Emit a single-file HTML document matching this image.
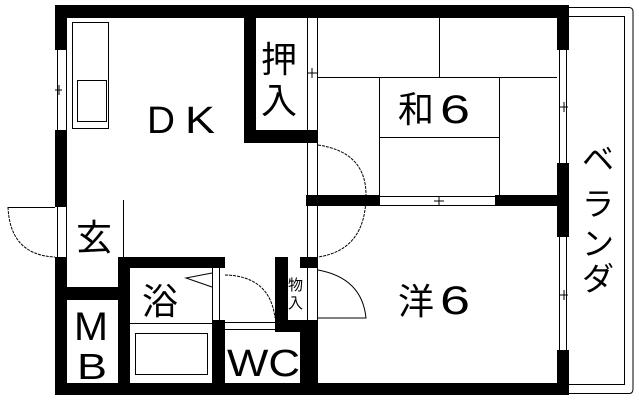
<!DOCTYPE html>
<html><head><meta charset="utf-8"><style>
html,body{margin:0;padding:0;background:#fff;width:639px;height:401px;overflow:hidden}
text{font-family:"Liberation Sans","Noto Sans CJK JP",sans-serif;fill:#000}
</style></head><body>
<svg width="639" height="401" viewBox="0 0 639 401" xmlns="http://www.w3.org/2000/svg">
<g fill="#000">
<rect x="55" y="5" width="514" height="13"/>
<rect x="55" y="383" width="514" height="12"/>
<rect x="55" y="5" width="12" height="45"/>
<rect x="55" y="130" width="12" height="77"/>
<rect x="55" y="257" width="12" height="138"/>
<rect x="557" y="5" width="12" height="45"/>
<rect x="557" y="163" width="12" height="74"/>
<rect x="557" y="350" width="12" height="45"/>
<rect x="244" y="5" width="12" height="138"/>
<rect x="244" y="130" width="74" height="13"/>
<rect x="306" y="195" width="74" height="11"/>
<rect x="495" y="195" width="63" height="11"/>
<rect x="300" y="257" width="18" height="11"/>
<rect x="300" y="320" width="18" height="75"/>
<rect x="275" y="257" width="13" height="75"/>
<rect x="275" y="320" width="43" height="12"/>
<rect x="118" y="257" width="107" height="11"/>
<rect x="118" y="257" width="12" height="138"/>
<rect x="67" y="287" width="51" height="13"/>
<rect x="212" y="320" width="13" height="75"/>
</g>
<g fill="none" stroke="#000" stroke-width="1">
<line x1="57.5" y1="50" x2="57.5" y2="130"/><line x1="66.5" y1="50" x2="66.5" y2="130"/>
<line x1="55" y1="90" x2="62" y2="90"/><line x1="59" y1="85" x2="59" y2="95"/>
<line x1="57.5" y1="207" x2="57.5" y2="257"/><line x1="66.5" y1="207" x2="66.5" y2="257"/>
<line x1="8" y1="207.5" x2="55" y2="207.5"/>
<path d="M8 207 Q10 255 55 257" stroke-dasharray="3,1"/>
<line x1="123.5" y1="200" x2="123.5" y2="257"/>
<rect x="72.5" y="22.5" width="36" height="106"/>
<rect x="77.5" y="80.5" width="29" height="41"/>
<line x1="307.5" y1="18" x2="307.5" y2="195"/><line x1="317.5" y1="18" x2="317.5" y2="195"/>
<line x1="307.5" y1="206" x2="307.5" y2="257"/><line x1="317.5" y1="206" x2="317.5" y2="257"/>
<line x1="307.5" y1="268" x2="307.5" y2="320"/><line x1="317.5" y1="268" x2="317.5" y2="320"/>
<line x1="308" y1="73" x2="318" y2="73"/><line x1="312" y1="68" x2="312" y2="78"/>
<path d="M318 145 Q366 152 366 195 Q366 250 318 257" stroke-dasharray="3,1"/>
<path d="M318 270 Q362 278 366 318 L318 318"/>
<line x1="318" y1="77.5" x2="557" y2="77.5"/>
<line x1="439.5" y1="18" x2="439.5" y2="77"/>
<line x1="379.5" y1="77" x2="379.5" y2="195"/>
<line x1="499.5" y1="77" x2="499.5" y2="195"/>
<line x1="379" y1="137.5" x2="499" y2="137.5"/>
<line x1="380" y1="196.5" x2="495" y2="196.5"/><line x1="380" y1="205.5" x2="495" y2="205.5"/>
<line x1="434" y1="201" x2="444" y2="201"/><line x1="439" y1="197" x2="439" y2="205"/>
<line x1="559.5" y1="50" x2="559.5" y2="163"/><line x1="566.5" y1="50" x2="566.5" y2="163"/>
<line x1="559.5" y1="237" x2="559.5" y2="350"/><line x1="566.5" y1="237" x2="566.5" y2="350"/>
<line x1="560" y1="107" x2="568" y2="107"/><line x1="564" y1="102" x2="564" y2="112"/>
<line x1="560" y1="295" x2="568" y2="295"/><line x1="564" y1="290" x2="564" y2="300"/>
<path d="M569 7.5 H629 Q633 7.5 633 12 V389 Q633 393.5 629 393.5 H569"/>
<path d="M569 16.5 H624.5 V384.5 H569"/>
<line x1="130" y1="323.5" x2="212" y2="323.5"/>
<rect x="135.5" y="333.5" width="72" height="41"/>
<path d="M212 273 L186 278 L212 287"/>
<line x1="212.5" y1="268" x2="212.5" y2="320"/><line x1="219.5" y1="268" x2="219.5" y2="320"/>
<line x1="225" y1="322.5" x2="275" y2="322.5"/><line x1="225" y1="329.5" x2="275" y2="329.5"/>
<path d="M225 275 Q270 276 275 318" stroke-dasharray="3,1"/>
</g>
<g font-size="36">
<text x="147" y="133" font-size="38" textLength="28" lengthAdjust="spacingAndGlyphs">D</text>
<text x="185" y="133" font-size="38" textLength="30" lengthAdjust="spacingAndGlyphs">K</text>
<text x="261" y="72">押</text><text x="261" y="113">入</text>
<text x="398" y="122">和</text><text x="440" y="123" font-size="40" textLength="30" lengthAdjust="spacingAndGlyphs">6</text>
<text x="398" y="314">洋</text><text x="440" y="314" font-size="40" textLength="30" lengthAdjust="spacingAndGlyphs">6</text>
<text x="76" y="250">玄</text>
<text x="142" y="314">浴</text>
<text x="74" y="340" font-size="40" textLength="34" lengthAdjust="spacingAndGlyphs">M</text>
<text x="77" y="379" font-size="36" textLength="30" lengthAdjust="spacingAndGlyphs">B</text>
<text x="227" y="376" font-size="38" textLength="73" lengthAdjust="spacingAndGlyphs">WC</text>
<text x="288" y="290" font-size="15">物</text><text x="288" y="308" font-size="15">入</text>
<g font-size="32">
<text x="582" y="170">ベ</text><text x="582" y="215">ラ</text><text x="582" y="255">ン</text><text x="582" y="290">ダ</text>
</g>
</g>
</svg>
</body></html>
